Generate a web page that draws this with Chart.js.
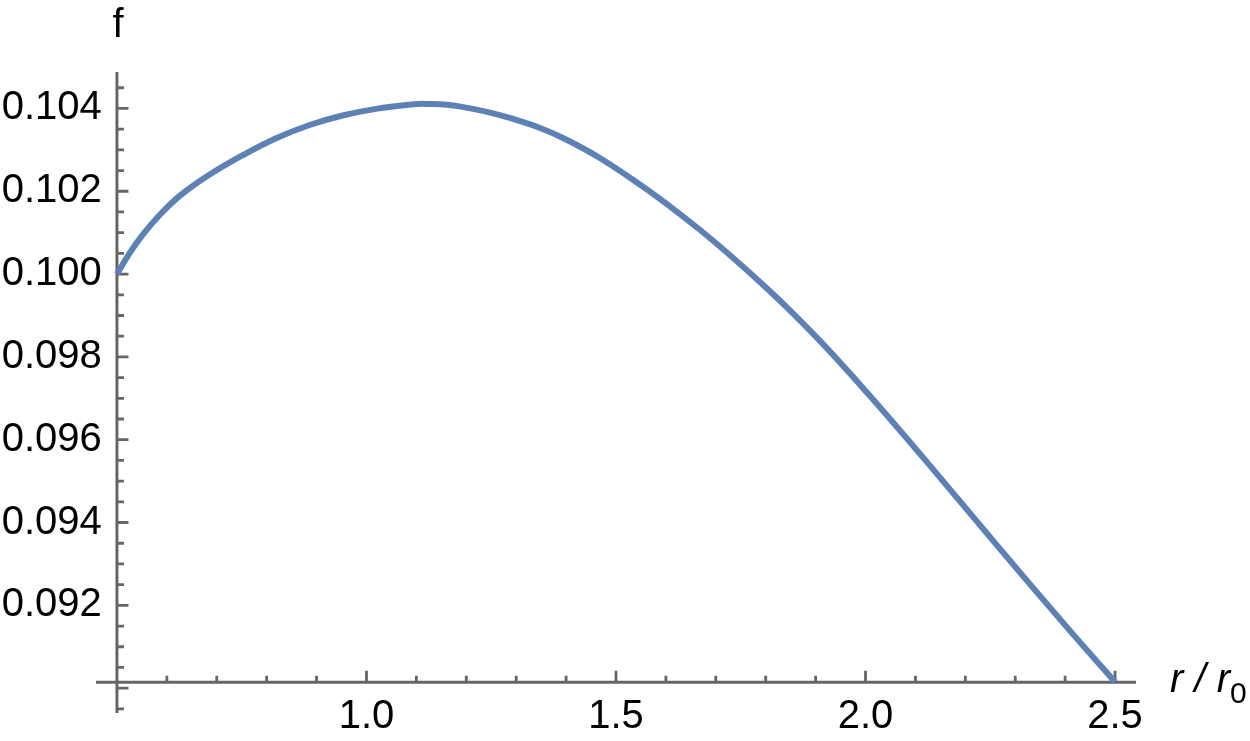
<!DOCTYPE html>
<html>
<head>
<meta charset="utf-8">
<script src="https://cdn.jsdelivr.net/npm/chart.js@4.4.1/dist/chart.umd.min.js"></script>
<style>
  html, body { margin: 0; padding: 0; background: #fff; }
  #wrap { width: 1250px; height: 741px; }
</style>
</head>
<body>
<div id="wrap"><canvas id="c" width="1250" height="741"></canvas></div>
<script>
// ---- data ----
const xValues = [0.500, 0.525, 0.551, 0.585, 0.618, 0.652, 0.685, 0.752, 0.819, 0.886, 0.952, 1.019, 1.086, 1.119, 1.186, 1.287, 1.400, 1.534, 1.668, 1.801, 1.902, 2.002, 2.135, 2.269, 2.403, 2.500];
const fValues = [0.10000, 0.10050, 0.10094, 0.10142, 0.10181, 0.10213, 0.10240, 0.10287, 0.10328, 0.10360, 0.10383, 0.10399, 0.10409, 0.10411, 0.10405, 0.10377, 0.10325, 0.10228, 0.10107, 0.09967, 0.09847, 0.09715, 0.09529, 0.09337, 0.09148, 0.09015];

const xTickLabels = [1.0, 1.5, 2.0, 2.5];
const yTickLabels = [0.092, 0.094, 0.096, 0.098, 0.100, 0.102, 0.104];
const xMajorTicks = [1.0, 1.5, 2.0, 2.5];
const xMinorTicks = [0.6, 0.7, 0.8, 0.9, 1.1, 1.2, 1.3, 1.4, 1.6, 1.7, 1.8, 1.9, 2.1, 2.2, 2.3, 2.4];
const yMajorTicks = [0.090, 0.092, 0.094, 0.096, 0.098, 0.100, 0.102, 0.104];
const yMinorTicks = [0.0895, 0.0905, 0.0910, 0.0915, 0.0925, 0.0930, 0.0935, 0.0945, 0.0950, 0.0955, 0.0965, 0.0970, 0.0975, 0.0985, 0.0990, 0.0995, 0.1005, 0.1010, 0.1015, 0.1025, 0.1030, 0.1035, 0.1045];

const xAxisTitle = 'r / r';
const xAxisTitleSub = '0';
const yAxisTitle = 'f';

// axis ranges / crossing
const xMin = 0.458, xMax = 2.542;
const yMin = 0.0894, yMax = 0.10488;
const yAxisAtX = 0.5;      // vertical axis crosses here
const xAxisAtY = 0.09014;  // horizontal axis crosses here

const FONT = '"Liberation Sans", Arial, Helvetica, sans-serif';
const AXIS_COLOR = '#666666';

const mmaAxes = {
  id: 'mmaAxes',
  beforeDatasetsDraw(chart) {
    const { ctx, scales: { x, y } } = chart;
    const x0 = x.getPixelForValue(yAxisAtX);
    const y0 = y.getPixelForValue(xAxisAtY);
    ctx.save();
    ctx.strokeStyle = AXIS_COLOR;
    ctx.lineCap = 'butt';
    ctx.lineWidth = 3;
    ctx.beginPath();
    ctx.moveTo(x.left, y0); ctx.lineTo(x.right, y0);
    ctx.moveTo(x0, y.top); ctx.lineTo(x0, y.bottom);
    ctx.stroke();
    ctx.lineWidth = 2.8;
    ctx.beginPath();
    xMajorTicks.forEach(v => { const p = x.getPixelForValue(v); ctx.moveTo(p, y0); ctx.lineTo(p, y0 - 11.5); });
    xMinorTicks.forEach(v => { const p = x.getPixelForValue(v); ctx.moveTo(p, y0); ctx.lineTo(p, y0 - 6.5); });
    yMajorTicks.forEach(v => { const p = y.getPixelForValue(v); ctx.moveTo(x0, p); ctx.lineTo(x0 + 11.5, p); });
    yMinorTicks.forEach(v => { const p = y.getPixelForValue(v); ctx.moveTo(x0, p); ctx.lineTo(x0 + 7, p); });
    ctx.stroke();
    ctx.restore();
  },
  afterDraw(chart) {
    const { ctx, scales: { x, y } } = chart;
    const x0 = x.getPixelForValue(yAxisAtX);
    const y0 = y.getPixelForValue(xAxisAtY);
    ctx.save();
    ctx.fillStyle = '#000';
    ctx.textBaseline = 'alphabetic';
    // y title
    ctx.font = '40px ' + FONT;
    ctx.textAlign = 'center';
    ctx.fillText(yAxisTitle, x0 + 1, 37);
    // x title
    ctx.textAlign = 'left';
    ctx.font = 'italic 40px ' + FONT;
    const tx = x.right + 34;
    ctx.fillText(xAxisTitle, tx, y0 + 10);
    const w = ctx.measureText(xAxisTitle).width;
    ctx.font = '30px ' + FONT;
    ctx.fillText(xAxisTitleSub, tx + w, y0 + 21);
    ctx.restore();
  }
};

new Chart(document.getElementById('c'), {
  type: 'line',
  data: {
    datasets: [{
      data: xValues.map((v, i) => ({ x: v, y: fValues[i] })),
      borderColor: '#5E81B5',
      borderWidth: 6,
      borderCapStyle: 'butt',
      pointRadius: 0,
      fill: false,
      tension: 0.4
    }]
  },
  options: {
    responsive: false,
    animation: false,
    devicePixelRatio: 1,
    layout: { padding: { left: 0, top: 72, right: 114, bottom: 28 } },
    plugins: { legend: { display: false }, tooltip: { enabled: false } },
    scales: {
      x: {
        type: 'linear',
        min: xMin, max: xMax,
        position: { y: xAxisAtY },
        grid: { display: false, drawTicks: false },
        border: { display: false },
        afterBuildTicks: s => { s.ticks = xTickLabels.map(v => ({ value: v })); },
        ticks: {
          autoSkip: false, maxRotation: 0, minRotation: 0,
          padding: 11,
          color: '#000',
          font: { family: FONT, size: 40, lineHeight: 1.2 },
          callback: v => Number(v).toFixed(1)
        }
      },
      y: {
        type: 'linear',
        min: yMin, max: yMax,
        position: 'left',
        afterFit: s => { s.width = 96; },
        grid: { display: false, drawTicks: false },
        border: { display: false },
        afterBuildTicks: s => { s.ticks = yTickLabels.map(v => ({ value: v })); },
        ticks: {
          autoSkip: false,
          mirror: true,
          padding: -94.3,
          color: '#000',
          font: { family: FONT, size: 40, lineHeight: 1.2 },
          callback: v => Number(v).toFixed(3)
        }
      }
    }
  },
  plugins: [mmaAxes]
});
</script>
</body>
</html>
